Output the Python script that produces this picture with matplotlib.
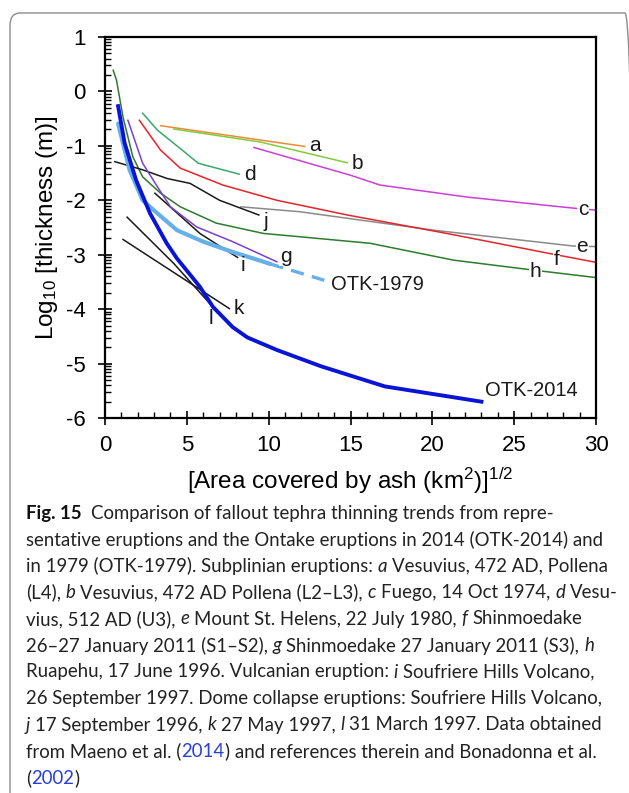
import numpy as np
import matplotlib
matplotlib.use('Agg')
import matplotlib.pyplot as plt
from matplotlib.patches import FancyBboxPatch

# Thinning trends: x = sqrt(area) [km], y = log10 thickness [m]
otk2014_x = [0.8, 1.2, 1.9, 2.75, 3.77, 4.4, 5.8, 6.6, 7.8, 8.7, 10.5, 13.2, 17.1, 23.0]
otk2014_y = [-0.27, -0.95, -1.63, -2.24, -2.79, -3.07, -3.59, -3.96, -4.33, -4.52, -4.75, -5.05, -5.42, -5.70]
otk1979_x = [0.8, 1.5, 2.3, 3.2, 4.4, 6.0, 7.8, 9.7, 10.1]
otk1979_y = [-0.59, -1.44, -2.0, -2.24, -2.55, -2.76, -2.95, -3.13, -3.17]
otk1979_ext_x = [10.1, 13.4]
otk1979_ext_y = [-3.17, -3.47]

a_x = [3.4, 12.2]
a_y = [-0.63, -1.01]
b_x = [4.2, 9.5, 14.8]
b_y = [-0.69, -0.93, -1.31]
c_x = [9.1, 15.0, 16.8, 22.1, 28.8, 30.0]
c_y = [-1.03, -1.54, -1.72, -1.94, -2.15, -2.18]
d_x = [2.3, 3.2, 4.6, 5.7, 8.2]
d_y = [-0.40, -0.71, -1.05, -1.32, -1.52]
e_x = [8.3, 11.9, 20.1, 28.6, 30.0]
e_y = [-2.12, -2.21, -2.55, -2.84, -2.85]
f_x = [2.1, 3.4, 4.6, 7.2, 10.5, 14.8, 20.9, 27.2, 30.0]
f_y = [-0.53, -1.08, -1.41, -1.72, -2.0, -2.27, -2.61, -2.98, -3.14]
g_x = [1.4, 2.3, 3.2, 4.0, 5.6, 7.8, 10.5]
g_y = [-0.53, -1.32, -1.75, -2.12, -2.49, -2.76, -3.13]
h_x = [0.5, 0.7, 1.1, 1.7, 2.3, 3.4, 4.6, 6.8, 9.7, 11.9, 16.2, 21.3, 26.1, 30.0]
h_y = [0.39, 0.21, -0.47, -1.2, -1.57, -1.87, -2.12, -2.42, -2.61, -2.67, -2.79, -3.1, -3.28, -3.42]
i_x = [3.05, 5.8, 8.1]
i_y = [-1.87, -2.61, -3.05]
j_x = [0.6, 2.3, 3.8, 5.2, 7.0, 9.4]
j_y = [-1.29, -1.44, -1.6, -1.69, -2.0, -2.27]
k_x = [1.1, 7.6]
k_y = [-2.72, -3.99]
l_x = [1.35, 4.2, 6.5]
l_y = [-2.31, -3.16, -3.93]

# label text and anchor (data coords)
labels = ['a', 'b', 'c', 'd', 'e', 'f', 'g', 'h', 'i', 'j', 'k', 'l']
label_x = [12.85, 15.4, 29.2, 8.85, 29.15, 27.6, 11.05, 26.3, 8.4, 9.8, 8.2, 6.5]
label_y = [-0.99, -1.33, -2.17, -1.53, -2.85, -3.09, -3.03, -3.30, -3.2, -2.39, -3.98, -4.18]
label_bg = [False, False, True, False, True, True, True, True, False, False, False, False]

caption_lines = [
    [("Fig. 15", "b"), ("  Comparison of fallout tephra thinning trends from repre-", "n")],
    [("sentative eruptions and the Ontake eruptions in 2014 (OTK-2014) and", "n")],
    [("in 1979 (OTK-1979). Subplinian eruptions: ", "n"), ("a", "i"), (" Vesuvius, 472 AD, Pollena", "n")],
    [("(L4), ", "n"), ("b", "i"), (" Vesuvius, 472 AD Pollena (L2\u2013L3), ", "n"), ("c", "i"),
     (" Fuego, 14 Oct 1974, ", "n"), ("d", "i"), (" Vesu-", "n")],
    [("vius, 512 AD (U3), ", "n"), ("e", "i"), (" Mount St. Helens, 22 July 1980, ", "n"), ("f", "i"),
     (" Shinmoedake", "n")],
    [("26\u201327 January 2011 (S1\u2013S2), ", "n"), ("g", "i"), (" Shinmoedake 27 January 2011 (S3), ", "n"),
     ("h", "i")],
    [("Ruapehu, 17 June 1996. Vulcanian eruption: ", "n"), ("i", "i"), (" Soufriere Hills Volcano,", "n")],
    [("26 September 1997. Dome collapse eruptions: Soufriere Hills Volcano,", "n")],
    [("j", "i"), (" 17 September 1996, ", "n"), ("k", "i"), (" 27 May 1997, ", "n"), ("l", "i"),
     (" 31 March 1997. Data obtained", "n")],
    [("from Maeno et al. (", "n"), ("2014", "link"), (") and references therein and Bonadonna et al.", "n")],
    [("(", "n"), ("2002", "link"), (")", "n")],
]

plt.rcParams['font.family'] = ['Liberation Sans', 'DejaVu Sans']
plt.rcParams['mathtext.fontset'] = 'custom'
plt.rcParams['mathtext.rm'] = 'Liberation Sans'
plt.rcParams['mathtext.it'] = 'Liberation Sans:italic'

W, H = 629, 793
fig = plt.figure(figsize=(W / 100, H / 100), dpi=100)

# rounded frame around the figure panel (runs off the right and bottom edges)
frame = FancyBboxPatch((10 / W, -12 / H), 625 / W, (793 - 13 + 12) / H,
                       boxstyle='round,pad=0,rounding_size=0.016',
                       transform=fig.transFigure, facecolor='none',
                       edgecolor='#8c8c8c', linewidth=1.0, clip_on=False)
fig.patches.append(frame)

ax = fig.add_axes([105 / W, 1 - 418 / H, 491 / W, 381 / H])

thin = 1.1
ax.plot(a_x, a_y, color='#f0883a', lw=thin)
ax.plot(b_x, b_y, color='#80cc3a', lw=thin)
ax.plot(c_x, c_y, color='#cc3fd6', lw=thin)
ax.plot(d_x, d_y, color='#3aa868', lw=thin)
ax.plot(e_x, e_y, color='#8a8a8a', lw=thin)
ax.plot(f_x, f_y, color='#e8232a', lw=thin)
ax.plot(h_x, h_y, color='#2e7a2e', lw=thin)
ax.plot(j_x, j_y, color='#1a1a1a', lw=thin)
ax.plot(i_x, i_y, color='#1a1a1a', lw=thin)
ax.plot(k_x, k_y, color='#1a1a1a', lw=thin)
ax.plot(l_x, l_y, color='#1a1a1a', lw=thin)
ax.plot(otk1979_x, otk1979_y, color='#66b0ea', lw=3.0, solid_capstyle='round')
ax.plot(otk1979_ext_x, otk1979_ext_y, color='#66b0ea', lw=2.4, dashes=(4, 2.5))
ax.plot(g_x, g_y, color='#7a3fcf', lw=thin)
ax.plot(otk2014_x, otk2014_y, color='#0a14d6', lw=2.8)

for t, x, y, bg in zip(labels, label_x, label_y, label_bg):
    txt = ax.text(x, y, t, fontsize=15, ha='center', va='center', color='#1a1a1a')
    if bg:
        txt.set_bbox(dict(facecolor='white', edgecolor='none', pad=0.5))

ax.text(13.8, -3.55, 'OTK-1979', fontsize=14.5, ha='left', va='center', color='#1a1a1a')
ax.text(23.2, -5.5, 'OTK-2014', fontsize=14.5, ha='left', va='center', color='#1a1a1a')

ax.set_xlim(0, 30)
ax.set_ylim(-6, 1)
ax.set_xticks(np.arange(0, 31, 5))
ax.set_xticks(np.arange(0, 31, 1), minor=True)
ax.set_yticks(np.arange(-6, 2, 1))
ymin = [n - 1 + np.log10(k) for n in range(-5, 2) for k in range(2, 10)]
ax.set_yticks(ymin, minor=True)
ax.set_yticklabels([str(v) for v in range(-6, 2)])
ax.tick_params(which='major', direction='inout', length=10, width=1.2, labelsize=16)
ax.tick_params(axis='y', which='major', pad=9)
ax.tick_params(axis='x', which='major', pad=7)
ax.tick_params(which='minor', direction='in', length=4, width=1.0)
for s in ax.spines.values():
    s.set_linewidth(1.6)

ax.set_xlabel('[Area covered by ash (km$^2$)]$^{1/2}$', fontsize=17.5, labelpad=7)
ax.set_ylabel('Log$_{10}$ [thickness (m)]', fontsize=17.5, labelpad=4)

# caption, set run by run so bold / italic / coloured pieces line up
cap_fam = ['Lato', 'DejaVu Sans']
styles = {
    'n': dict(weight='normal', style='normal', color='#222222'),
    'b': dict(weight='bold', style='normal', color='#111111'),
    'i': dict(weight='normal', style='italic', color='#222222'),
    'link': dict(weight='normal', style='normal', color='#2a3fd9'),
}
renderer = fig.canvas.get_renderer()


def text_width(s, size, st):
    if not s.strip():
        return 0.0
    t = fig.text(0, 0, s.strip(), fontsize=size, family=cap_fam,
                 fontweight=styles[st]['weight'], fontstyle=styles[st]['style'])
    w = t.get_window_extent(renderer).width
    t.remove()
    return w


def run_width(s, size, st):
    sp = text_width('x x', size, 'n') - text_width('xx', size, 'n')
    lead = len(s) - len(s.lstrip())
    trail = len(s) - len(s.rstrip())
    return lead * sp, text_width(s, size, st), trail * sp


# fit font size so the widest caption line spans the text block
ref = 10.0
line_w = [sum(sum(run_width(s, ref, st)) for s, st in ln) for ln in caption_lines]
size = ref * 588.0 / max(line_w)
size = min(size, 15.5)

x0 = 26
y_first = 511.5
step = 26.5
for li, ln in enumerate(caption_lines):
    x = x0
    y = y_first + li * step
    for s, st in ln:
        lead, w, trail = run_width(s, size, st)
        x += lead
        if s.strip():
            fig.text(x / W, 1 - y / H, s.strip(), fontsize=size, family=cap_fam,
                     fontweight=styles[st]['weight'], fontstyle=styles[st]['style'],
                     color=styles[st]['color'], ha='left', va='center_baseline')
        x += w + trail

fig.savefig('out.png', dpi=100)
